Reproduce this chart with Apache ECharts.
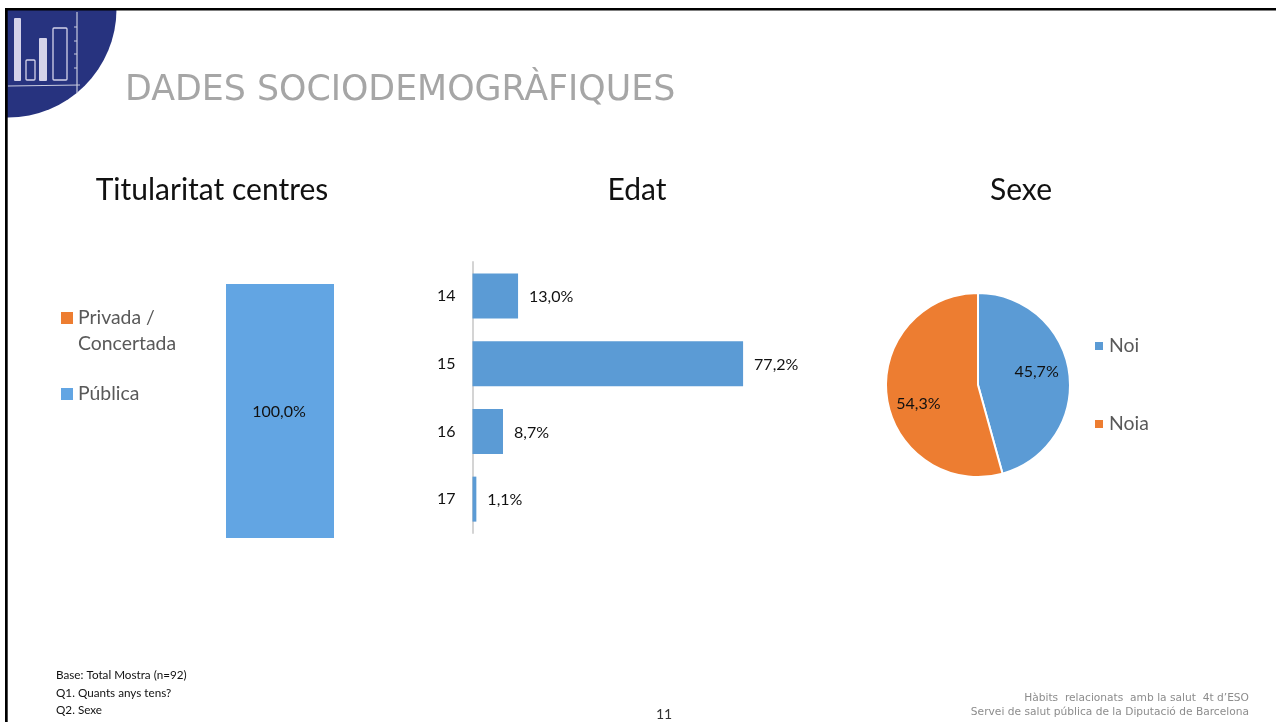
<!DOCTYPE html>
<html><head><meta charset="utf-8">
<style>html,body{margin:0;padding:0;background:#fff}#c{width:1276px;height:722px}</style>
<script src="https://cdn.jsdelivr.net/npm/echarts@6/dist/echarts.min.js"></script>
</head><body><div id="c"></div>
<script>
const ownershipNames = ['Privada /\nConcertada', 'Pública'];
const ownershipValues = [0, 100];
const ageCategories = ['14', '15', '16', '17'];
const ageValues = [13.0, 77.2, 8.7, 1.1];
const sexNames = ['Noi', 'Noia'];
const sexValues = [45.7, 54.3];
const pct = v => v.toFixed(1).replace('.', ',') + '%';
const FONT = 'Lato';
const chart = echarts.init(document.getElementById('c'), null, {renderer: 'canvas'});
const sectionTitle = (text, x) => ({text, left: x - 5, top: 170, textAlign: 'center',
  textStyle: {fontFamily: FONT, fontSize: 30, fontWeight: 'normal', color: '#111'}});
const logoBar = (x, y, w, h, filled) => ({type: 'rect', shape: {x, y, width: w, height: h, r: 1},
  style: filled ? {fill: '#d5d3ea'} : {fill: 'none', stroke: '#d5d3ea', lineWidth: 1.3}, z: 3});
const logoLine = (x1, y1, x2, y2, w) => ({type: 'line', shape: {x1, y1, x2, y2},
  style: {stroke: '#c9cbe0', lineWidth: w}, z: 3});
chart.setOption({
  animation: false,
  title: [
    {text: 'DADES SOCIODEMOGRÀFIQUES', left: 120, top: 68,
     textStyle: {fontFamily: 'DejaVu Sans', fontSize: 34.8, fontWeight: 'normal', color: '#a6a6a6'}},
    sectionTitle('Titularitat centres', 212),
    sectionTitle('Edat', 637),
    sectionTitle('Sexe', 1021)
  ],
  grid: [
    {left: 200, top: 284, width: 160, height: 254},
    {left: 472.5, top: 262, width: 350.5, height: 271}
  ],
  xAxis: [
    {type: 'category', gridIndex: 0, data: ['Pública'], show: false},
    {type: 'value', gridIndex: 1, min: 0, max: 100, show: false}
  ],
  yAxis: [
    {type: 'value', gridIndex: 0, min: 0, max: 100, show: false},
    {type: 'category', gridIndex: 1, data: ageCategories, inverse: true,
     axisTick: {show: false},
     axisLine: {lineStyle: {color: '#d4d4d4', width: 2}},
     axisLabel: {fontFamily: FONT, fontSize: 16, color: '#111', margin: 17}}
  ],
  legend: [
    {left: 56, top: 300, selectedMode: false, itemWidth: 12, itemHeight: 38, itemGap: 8,
     data: [{name: ownershipNames[0], icon: 'path://M0 0H12V12H0Z M0 38H12V38H0Z'}],
     textStyle: {fontFamily: FONT, fontSize: 19.4, color: '#595959', lineHeight: 26}},
    {left: 56, top: 376, selectedMode: false, itemWidth: 12, itemHeight: 12,
     data: [{name: ownershipNames[1], icon: 'rect'}],
     textStyle: {fontFamily: FONT, fontSize: 19.4, color: '#595959', lineHeight: 26}},
    {left: 1088, top: 328, orient: 'vertical', selectedMode: false, itemWidth: 10, itemHeight: 10, itemGap: 52,
     data: sexNames.map(name => ({name, icon: 'rect'})),
     textStyle: {fontFamily: FONT, fontSize: 19.4, color: '#595959', lineHeight: 26}}
  ],
  series: [
    {name: ownershipNames[0], type: 'bar', stack: 'own', xAxisIndex: 0, yAxisIndex: 0, barWidth: 108,
     itemStyle: {color: '#ed7d31'}, data: [ownershipValues[0]], label: {show: false}},
    {name: ownershipNames[1], type: 'bar', stack: 'own', xAxisIndex: 0, yAxisIndex: 0, barWidth: 108,
     itemStyle: {color: '#62a5e3'}, data: [ownershipValues[1]],
     label: {show: true, position: 'inside', offset: [-1, 1], fontFamily: FONT, fontSize: 16, color: '#111',
       formatter: p => pct(p.value)}},
    {name: 'Edat', type: 'bar', xAxisIndex: 1, yAxisIndex: 1, barWidth: 45,
     itemStyle: {color: '#5b9bd5'}, data: ageValues,
     label: {show: true, position: 'right', distance: 11, offset: [0, 1], fontFamily: FONT, fontSize: 16, color: '#111',
       formatter: p => pct(p.value)}},
    {name: 'Sexe', type: 'pie', center: [978, 385], radius: [0, 92], startAngle: 90, clockwise: true,
     color: ['#5b9bd5', '#ed7d31'],
     itemStyle: {borderColor: '#fff', borderWidth: 2},
     data: sexNames.map((name, i) => ({name, value: sexValues[i]})),
     label: {show: true, position: 'inside', fontFamily: FONT, fontSize: 16, color: '#111',
       formatter: p => pct(p.value)},
     labelLine: {show: false},
     labelLayout: p => p.dataIndex === 0 ? {dx: 10, dy: -7} : {dx: -11, dy: 12}}
  ],
  graphic: [
    {type: 'circle', shape: {cx: 8, cy: 9, r: 108.5}, style: {fill: '#27337f'}, z: 2},
    {type: 'rect', shape: {x: 0, y: 0, width: 1276, height: 8}, style: {fill: '#fff'}, z: 2.5},
    {type: 'rect', shape: {x: 0, y: 0, width: 5, height: 722}, style: {fill: '#fff'}, z: 2.5},
    logoBar(14, 18, 7, 63, true), logoBar(26, 60, 9, 20, false),
    logoBar(39, 38, 8, 43, true), logoBar(53, 28, 14, 52, false),
    logoLine(8, 86, 80, 85, 1.2), logoLine(77, 12, 77, 93, 1.2),
    logoLine(74, 27, 77, 27, 1), logoLine(74, 41, 77, 41, 1),
    logoLine(74, 54, 77, 54, 1), logoLine(74, 68, 77, 68, 1),
    {type: 'rect', shape: {x: 5, y: 8, width: 1271, height: 2.5}, style: {fill: '#000'}, z: 4},
    {type: 'rect', shape: {x: 5, y: 8, width: 2.7, height: 714}, style: {fill: '#000'}, z: 4},
    {type: 'text', x: 56, y: 667, z: 5, style: {text: 'Base: Total Mostra (n=92)\nQ1. Quants anys tens?\nQ2. Sexe',
      font: '11.7px Lato', fill: '#111', lineHeight: 17.2}},
    {type: 'text', x: 664, y: 707, z: 5, style: {text: '11', font: '14px Lato', fill: '#333', align: 'center'}},
    {type: 'text', x: 1249, y: 691, z: 5, style: {text: 'Hàbits  relacionats  amb la salut  4t d’ESO\nServei de salut pública de la Diputació de Barcelona',
      font: '10.65px "DejaVu Sans"', fill: '#8c8c8c', align: 'right', lineHeight: 14}}
  ]
});
</script></body></html>
